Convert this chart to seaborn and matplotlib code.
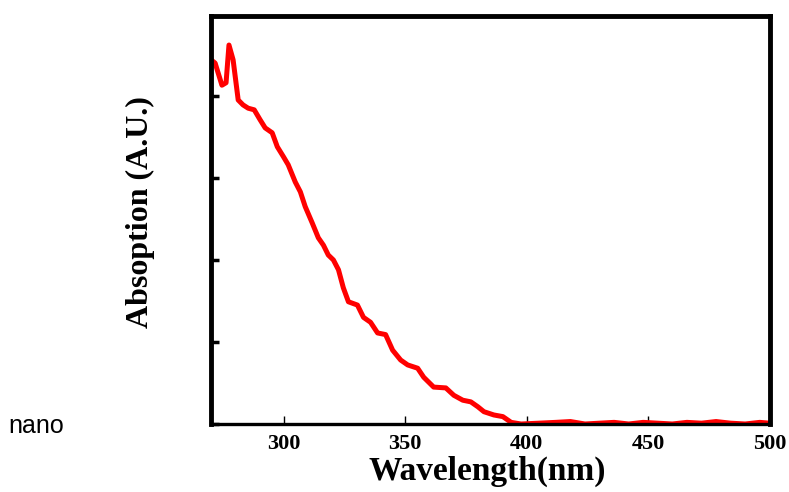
import numpy as np
import pandas as pd
import matplotlib
matplotlib.use("Agg")
import matplotlib.pyplot as plt
import seaborn as sns

# spectrum
wavelength = [270, 271.7, 274.5, 276.2, 277.4, 279.1, 281.2, 283.2, 285.3, 287.8,
              290.2, 292.3, 295.2, 297.3, 299.8, 301.8, 304.7, 306.8, 308.8, 311.7,
              314.2, 316.3, 318.3, 320.4, 322.5, 324.5, 326.6, 330.3, 332.8, 335.7,
              338.6, 341.9, 344.8, 348.1, 351.0, 355.1, 357.6, 361.7, 366.7, 370.0,
              373.7, 377.0, 379.9, 382.4, 386.5, 390.2, 393.6, 397.7, 405, 412,
              418, 424, 430, 436, 442, 448, 454, 460, 466, 472,
              478, 484, 490, 496, 500]
absorption = [4.44, 4.40, 4.13, 4.16, 4.62, 4.44, 3.95, 3.89, 3.85, 3.83,
              3.71, 3.61, 3.55, 3.38, 3.26, 3.16, 2.95, 2.83, 2.65, 2.45,
              2.27, 2.18, 2.06, 2.00, 1.88, 1.66, 1.49, 1.45, 1.30, 1.24,
              1.11, 1.09, 0.90, 0.78, 0.72, 0.68, 0.57, 0.45, 0.44, 0.35,
              0.29, 0.27, 0.21, 0.15, 0.11, 0.09, 0.02, 0.0, 0.01, 0.02,
              0.03, 0.0, 0.01, 0.02, 0.0, 0.02, 0.01, 0.0, 0.02, 0.01,
              0.03, 0.01, 0.0, 0.02, 0.01]
x_ticks = [300, 350, 400, 450, 500]
y_ticks = [0, 1, 2, 3, 4]

df = pd.DataFrame({"wl": wavelength, "abs": absorption})

sns.set_style("ticks")
plt.rcParams["font.family"] = ["Liberation Serif", "DejaVu Serif"]
plt.rcParams["text.color"] = "black"

fig = plt.figure(figsize=(7.89, 4.92), dpi=100)
ax = fig.add_axes([211 / 789, 68 / 492, 558.5 / 789, 408.5 / 492])

sns.lineplot(data=df, x="wl", y="abs", ax=ax, color="red", linewidth=3.6)

ax.set_xlim(270, 500)
ax.set_ylim(0, 4.98)
ax.set_xticks(x_ticks)
ax.set_xticklabels([str(t) for t in x_ticks], fontsize=16, fontweight="bold")
ax.set_yticks(y_ticks)
ax.set_yticklabels([])

for side in ["left", "top", "right"]:
    ax.spines[side].set_linewidth(3.5)
    ax.spines[side].set_color("black")
ax.spines["bottom"].set_linewidth(2.4)
ax.spines["bottom"].set_color("black")

ax.tick_params(axis="x", direction="in", length=6, width=1, pad=7,
               colors="black", labelcolor="black")
ax.tick_params(axis="y", direction="in", length=6, width=2.5, colors="black")

ax.set_xlabel("Wavelength(nm)", fontsize=24, fontweight="bold", color="black")
ax.xaxis.set_label_coords(0.494, -0.078)
ax.set_ylabel("Absoption (A.U.)", fontsize=23, fontweight="bold", color="black")
ax.yaxis.set_label_coords(-0.10, 0.52)

fig.text(36 / 789, 1 - 426 / 492, "nano", ha="center", va="center", fontsize=18,
         color="black", family=["Liberation Sans Narrow", "Liberation Sans", "DejaVu Sans"])

fig.savefig("out.png", dpi=100)
